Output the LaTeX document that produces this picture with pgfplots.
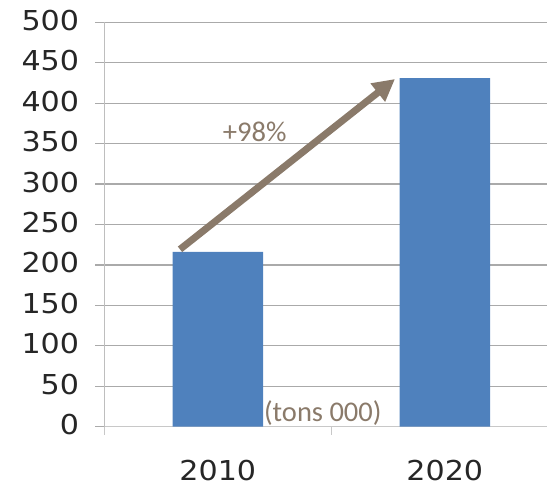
\documentclass[border=0pt]{standalone}
\usepackage{fontspec}
\usepackage{pgfplots}
\pgfplotsset{compat=1.18}
\usetikzlibrary{arrows.meta}
\newfontfamily\tickfont[FakeStretch=1.1]{DejaVu Sans}
\newfontfamily\calibri{Carlito}
\definecolor{barblue}{RGB}{79,129,189}
\definecolor{annot}{RGB}{138,122,106}
\definecolor{gridc}{RGB}{170,170,170}
\definecolor{axc}{RGB}{200,200,200}
\begin{document}
\begin{tikzpicture}
\useasboundingbox (-104.3pt,-59.3pt) rectangle (442.7pt,404.4pt+22.3pt);
\begin{axis}[
  scale only axis,
  width=442.7pt, height=404.4pt,
  xmin=-0.5, xmax=1.4502,
  ymin=0, ymax=500,
  enlargelimits=false,
  clip=false,
  axis x line*=bottom, axis y line*=left,
  x axis line style={draw=axc, line width=1.5pt, -},
  y axis line style={draw=axc!95!black, line width=1pt, -},
  ytick={0,50,...,500},
  ymajorgrids,
  major grid style={draw=gridc, line width=1.2pt},
  tick align=outside,
  major tick length=9pt,
  minor tick length=8pt,
  major y tick style={draw=gridc, line width=1.2pt},
  xtick={0,1},
  xticklabels={2010,2020},
  major x tick style={draw=none},
  minor xtick={-0.5,0.5,1.5},
  minor x tick style={draw=axc, line width=1pt},
  /pgf/number format/assume math mode=true,
  ticklabel style={font=\tickfont\fontsize{27.4}{30}\selectfont, text=black!85},
  yticklabel style={anchor=east, inner sep=0pt, xshift=-16pt, yshift=2pt},
  xticklabel style={anchor=north, inner sep=0pt, yshift=-24pt},
  ybar, bar width=90.4pt,
]
\addplot[fill=barblue, draw=none] coordinates {(0,216) (1,431)};
\draw[annot, line width=7pt, -{Triangle[length=22pt,width=22pt]}] (axis cs:-0.1665,219.3) -- (axis cs:0.7806,429.9);
\node[annot, inner sep=0pt, font=\calibri\fontsize{28.6}{30}\selectfont] at (axis cs:0.1626,364.4) {+98\%};
\node[annot, inner sep=0pt, font=\calibri\fontsize{28.5}{30}\selectfont] at (axis cs:0.4626,16.4) {(tons 000)};
\end{axis}
\end{tikzpicture}
\end{document}
